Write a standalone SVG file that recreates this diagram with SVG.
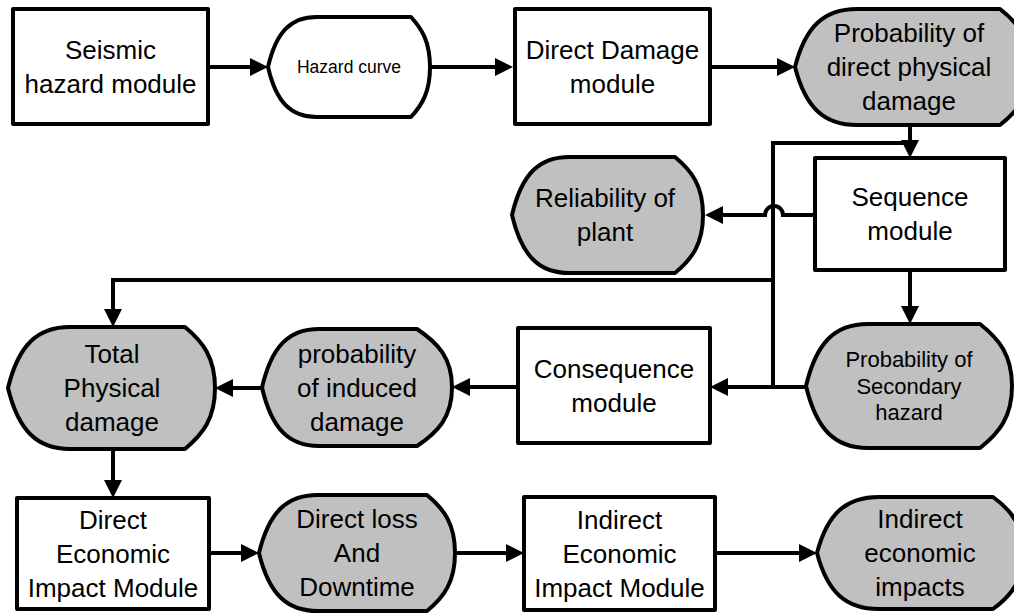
<svg xmlns="http://www.w3.org/2000/svg" width="1014" height="613" viewBox="0 0 1014 613">
<style>
.box{fill:#fff;stroke:#000;stroke-width:4;stroke-linejoin:round}
.disp{fill:#c0c0c0;stroke:#000;stroke-width:4;stroke-linejoin:round}
.dispw{fill:#fff;stroke:#000;stroke-width:4;stroke-linejoin:round}
.t{font-family:"Liberation Sans",Arial,sans-serif;font-size:26px;text-anchor:middle;fill:#000}
.ts{font-size:22px}
.tx{font-size:17.5px}
.c{fill:none;stroke:#000;stroke-width:4}
.a{marker-end:url(#ah)}
</style>
<defs>
<marker id="ah" viewBox="0 0 18 18" markerWidth="18" markerHeight="18" refX="10" refY="9" orient="auto" markerUnits="userSpaceOnUse">
<path d="M0,0 L18,9 L0,18 Z" fill="#000"/>
</marker>
</defs>
<g id="connectors">
<path class="c a" d="M208,67 H260"/>
<path class="c a" d="M430,67 H505"/>
<path class="c a" d="M710,67 H787"/>
<path class="c a" d="M910,125 V150"/>
<path class="c a" d="M815,215 H783 A9,9 0 0 0 765,215 H713"/>
<path class="c a" d="M910,270 V316"/>
<path class="c a" d="M806,387 H718"/>
<path class="c" d="M910,143 H773 V387"/>
<path class="c a" d="M773,280 H113 V319"/>
<path class="c a" d="M518,387 H460"/>
<path class="c a" d="M262,388 H223"/>
<path class="c a" d="M113,449 V490"/>
<path class="c a" d="M209,553 H251"/>
<path class="c a" d="M455,553 H516"/>
<path class="c a" d="M715,553 H809"/>
</g>
<g id="seismic-hazard-module">
<rect class="box" x="13" y="9" width="195" height="115"/>
<text class="t" x="110.5" y="58.6">Seismic</text>
<text class="t" x="110.5" y="92.6">hazard module</text>
</g>
<g id="hazard-curve">
<path class="dispw" d="M268,67 C276.1,32 290.7,17 316.6,17 L411,17 C422,29 430,42 430,67 C430,92 422,105 411,117 L316.6,117 C290.7,117 276.1,102 268,67Z"/>
<text class="t tx" x="349" y="73">Hazard curve</text>
</g>
<g id="direct-damage-module">
<rect class="box" x="515" y="9" width="195" height="115"/>
<text class="t" x="612.5" y="59">Direct Damage</text>
<text class="t" x="612.5" y="93">module</text>
</g>
<g id="probability-direct-damage">
<path class="disp" d="M795,67 C805.4,26.4 824,9 857,9 L1000,9 C1018,23 1030,38 1030,67 C1030,96 1018,111 1000,125 L857,125 C824,125 805.4,107.6 795,67Z"/>
<text class="t" x="909" y="42">Probability of</text>
<text class="t" x="909" y="76">direct physical</text>
<text class="t" x="909" y="110">damage</text>
</g>
<g id="sequence-module">
<rect class="box" x="815" y="158" width="190" height="112"/>
<text class="t" x="910" y="206">Sequence</text>
<text class="t" x="910" y="240">module</text>
</g>
<g id="reliability-of-plant">
<path class="disp" d="M512,215 C521.6,174.4 538.7,157 569.3,157 L675,157 C692,171 703,186 703,215 C703,244 692,259 675,273 L569.3,273 C538.7,273 521.6,255.6 512,215Z"/>
<text class="t" x="605" y="207">Reliability of</text>
<text class="t" x="605" y="241">plant</text>
</g>
<g id="probability-secondary-hazard">
<path class="disp" d="M806,386 C816.3,342.6 834.8,324 867.8,324 L980,324 C999,339 1012,355 1012,386 C1012,417 999,433 980,448 L867.8,448 C834.8,448 816.3,429.4 806,386Z"/>
<text class="t ts" x="909" y="367">Probability of</text>
<text class="t ts" x="909" y="393.7">Secondary</text>
<text class="t ts" x="909" y="420">hazard</text>
</g>
<g id="consequence-module">
<rect class="box" x="518" y="328" width="192" height="115"/>
<text class="t" x="614" y="377.6">Consequence</text>
<text class="t" x="614" y="411.6">module</text>
</g>
<g id="probability-induced-damage">
<path class="disp" d="M262,387.5 C271.5,346.5 288.6,329 319,329 L417,329 C438,343 452,358 452,387.5 C452,417 438,432 417,446 L319,446 C288.6,446 271.5,428.5 262,387.5Z"/>
<text class="t" x="357" y="362.6">probability</text>
<text class="t" x="357" y="396.6">of induced</text>
<text class="t" x="357" y="430.6">damage</text>
</g>
<g id="total-physical-damage">
<path class="disp" d="M8,388 C18.4,345.3 37,327 70.1,327 L185,327 C203,342 215,357.5 215,388 C215,418.5 203,434 185,449 L70.1,449 C37,449 18.4,430.7 8,388Z"/>
<text class="t" x="112" y="363">Total</text>
<text class="t" x="112" y="397">Physical</text>
<text class="t" x="112" y="431">damage</text>
</g>
<g id="direct-economic-impact-module">
<rect class="box" x="17" y="498" width="192" height="111"/>
<text class="t" x="113" y="528.6">Direct</text>
<text class="t" x="113" y="562.6">Economic</text>
<text class="t" x="113" y="596.6">Impact Module</text>
</g>
<g id="direct-loss-downtime">
<path class="disp" d="M259,553 C268.8,512.4 286.4,495 317.8,495 L427,495 C444,509 455,524 455,553 C455,582 444,597 427,611 L317.8,611 C286.4,611 268.8,593.6 259,553Z"/>
<text class="t" x="357" y="528">Direct loss</text>
<text class="t" x="357" y="562">And</text>
<text class="t" x="357" y="596">Downtime</text>
</g>
<g id="indirect-economic-impact-module">
<rect class="box" x="524" y="497" width="191" height="113"/>
<text class="t" x="619.5" y="528.6">Indirect</text>
<text class="t" x="619.5" y="562.6">Economic</text>
<text class="t" x="619.5" y="596.6">Impact Module</text>
</g>
<g id="indirect-economic-impacts">
<path class="disp" d="M817,553 C827.3,513.8 845.8,497 878.8,497 L993,497 C1011,510 1023,525 1023,553 C1023,581 1011,596 993,609 L878.8,609 C845.8,609 827.3,592.2 817,553Z"/>
<text class="t" x="920" y="528">Indirect</text>
<text class="t" x="920" y="562">economic</text>
<text class="t" x="920" y="596">impacts</text>
</g>
</svg>
